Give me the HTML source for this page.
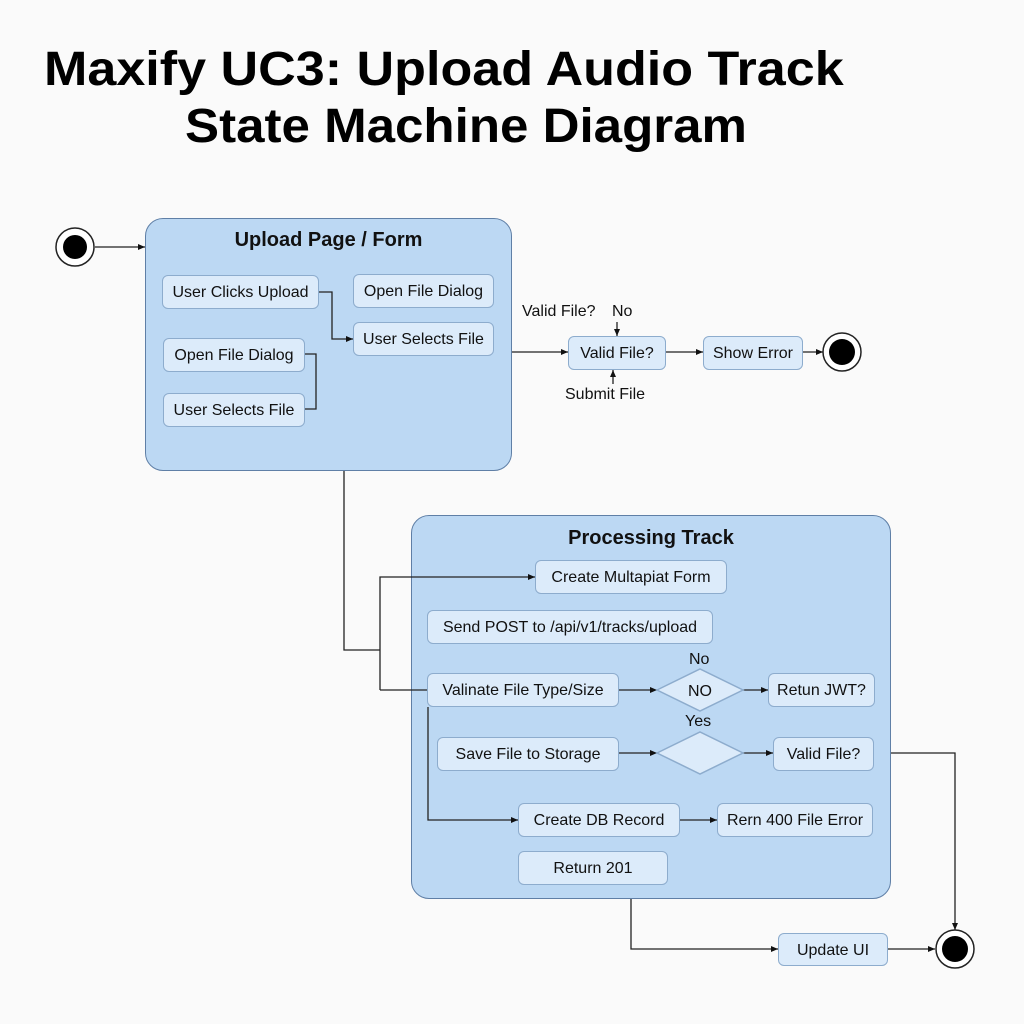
<!DOCTYPE html>
<html><head><meta charset="utf-8"><style>
html,body{margin:0;padding:0;width:1024px;height:1024px;background:#fafafa;overflow:hidden;font-family:"Liberation Sans",sans-serif;}
.t{position:absolute;font-weight:bold;font-size:48px;color:#000;white-space:nowrap;transform-origin:0 0;}
.c{position:absolute;background:#bcd8f3;border:1.5px solid #5f7fa6;border-radius:18px;box-sizing:border-box;}
.ct{position:absolute;left:0;right:0;text-align:center;font-weight:bold;font-size:20px;color:#111;}
.b{position:absolute;background:#dcebfa;border:1.5px solid #8daccd;border-radius:6px;box-sizing:border-box;display:flex;align-items:center;justify-content:center;font-size:16px;color:#111;white-space:nowrap;padding-top:2px;}
.l{position:absolute;font-size:16px;color:#111;white-space:nowrap;}
svg{position:absolute;left:0;top:0;}
</style></head><body>
<div class="t" style="top:42px;left:44px;transform:scaleX(1.085)">Maxify UC3: Upload Audio Track</div>
<div class="t" style="top:99px;left:185px;transform:scaleX(1.064)">State Machine Diagram</div>

<div class="c" style="left:145px;top:218px;width:367px;height:253px"><div class="ct" style="top:10px">Upload Page / Form</div></div>
<div class="c" style="left:411px;top:515px;width:480px;height:384px"><div class="ct" style="top:11px">Processing Track</div></div>

<div class="b" style="left:162px;top:275px;width:157px;height:34px">User Clicks Upload</div>
<div class="b" style="left:353px;top:274px;width:141px;height:34px">Open File Dialog</div>
<div class="b" style="left:353px;top:322px;width:141px;height:34px">User Selects File</div>
<div class="b" style="left:163px;top:338px;width:142px;height:34px">Open File Dialog</div>
<div class="b" style="left:163px;top:393px;width:142px;height:34px">User Selects File</div>

<div class="b" style="left:568px;top:336px;width:98px;height:34px">Valid File?</div>
<div class="b" style="left:703px;top:336px;width:100px;height:34px">Show Error</div>
<div class="l" style="left:522px;top:303px">Valid File?</div>
<div class="l" style="left:612px;top:303px">No</div>
<div class="l" style="left:565px;top:386px">Submit File</div>

<div class="b" style="left:535px;top:560px;width:192px;height:34px">Create Multapiat Form</div>
<div class="b" style="left:427px;top:610px;width:286px;height:34px">Send POST to /api/v1/tracks/upload</div>
<div class="b" style="left:427px;top:673px;width:192px;height:34px">Valinate File Type/Size</div>
<div class="b" style="left:768px;top:673px;width:107px;height:34px">Retun JWT?</div>
<div class="b" style="left:437px;top:737px;width:182px;height:34px">Save File to Storage</div>
<div class="b" style="left:773px;top:737px;width:101px;height:34px">Valid File?</div>
<div class="b" style="left:518px;top:803px;width:162px;height:34px">Create DB Record</div>
<div class="b" style="left:717px;top:803px;width:156px;height:34px">Rern 400 File Error</div>
<div class="b" style="left:518px;top:851px;width:150px;height:34px">Return 201</div>
<div class="b" style="left:778px;top:933px;width:110px;height:33px">Update UI</div>
<div class="l" style="left:689px;top:651px">No</div>
<div class="l" style="left:685px;top:713px">Yes</div>

<svg width="1024" height="1024" viewBox="0 0 1024 1024">
<defs><marker id="a" markerWidth="8" markerHeight="8" refX="7" refY="4" orient="auto" markerUnits="userSpaceOnUse"><path d="M0,1 L7,4 L0,7 z" fill="#111"/></marker></defs>
<g fill="none" stroke="#222" stroke-width="1.3">
<line x1="95" y1="247" x2="145" y2="247" marker-end="url(#a)"/>
<polyline points="319,292 332,292 332,339 353,339" marker-end="url(#a)"/>
<polyline points="305,354 316,354 316,409 305,409"/>
<line x1="512" y1="352" x2="568" y2="352" marker-end="url(#a)"/>
<line x1="666" y1="352" x2="703" y2="352" marker-end="url(#a)"/>
<line x1="803" y1="352" x2="823" y2="352" marker-end="url(#a)"/>
<line x1="617" y1="322" x2="617" y2="336" marker-end="url(#a)"/>
<line x1="613" y1="384" x2="613" y2="370" marker-end="url(#a)"/>
<polyline points="344,471 344,650 380,650"/>
<polyline points="380,690 380,577 535,577" marker-end="url(#a)"/>
<line x1="380" y1="690" x2="427" y2="690"/>
<line x1="619" y1="690" x2="657" y2="690" marker-end="url(#a)"/>
<line x1="743" y1="690" x2="768" y2="690" marker-end="url(#a)"/>
<line x1="619" y1="753" x2="657" y2="753" marker-end="url(#a)"/>
<line x1="743" y1="753" x2="773" y2="753" marker-end="url(#a)"/>
<polyline points="428,707 428,820 518,820" marker-end="url(#a)"/>
<line x1="680" y1="820" x2="717" y2="820" marker-end="url(#a)"/>
<polyline points="891,753 955,753 955,930" marker-end="url(#a)"/>
<polyline points="631,899 631,949 778,949" marker-end="url(#a)"/>
<line x1="888" y1="949" x2="935" y2="949" marker-end="url(#a)"/>
</g>
<polygon points="657,690 700,669 743,690 700,711" fill="#dcebfa" stroke="#8daccd" stroke-width="1.5"/>
<text x="700" y="696" font-family="Liberation Sans" font-size="16" text-anchor="middle" fill="#111">NO</text>
<polygon points="657,753 700,732 743,753 700,774" fill="#dcebfa" stroke="#8daccd" stroke-width="1.5"/>
<g><circle cx="75" cy="247" r="19" fill="#fff" stroke="#222" stroke-width="1.5"/><circle cx="75" cy="247" r="12" fill="#000"/></g>
<g><circle cx="842" cy="352" r="19" fill="#fff" stroke="#222" stroke-width="1.5"/><circle cx="842" cy="352" r="13" fill="#000"/></g>
<g><circle cx="955" cy="949" r="19" fill="#fff" stroke="#222" stroke-width="1.5"/><circle cx="955" cy="949" r="13" fill="#000"/></g>
</svg>
</body></html>
